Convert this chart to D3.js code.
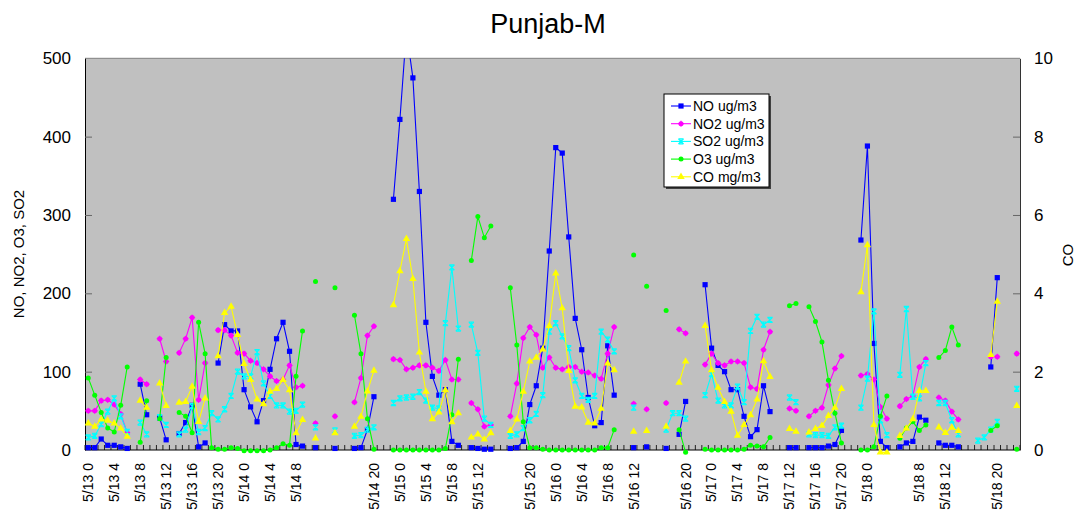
<!DOCTYPE html>
<html>
<head>
<meta charset="utf-8">
<script src="https://cdn.jsdelivr.net/npm/d3@7"></script>
<style>
  body { margin: 0; background: #fff; }
  text { font-family: "Liberation Sans", Arial, sans-serif; fill: #000; }
</style>
</head>
<body>
<svg id="chart" width="1080" height="513"></svg>
<script>
// hourly readings 5/13 0:00 .. 5/18 23:00 (144 rows), null = no data
var _ = null;

var noVals = [
  3,3,14,6,6,4,2,_,84,45,_,41,13,_,21,35,57,4,9,_,111,160,152,152,
  77,55,36,63,103,142,163,126,7,5,_,3,_,_,2,_,_,2,3,26,68,_,_,320,
  422,535,475,330,163,94,70,77,11,6,_,3,2,1,1,_,_,2,3,11,58,82,130,254,
  386,379,272,168,128,67,31,35,133,70,_,_,3,_,4,_,_,2,_,20,62,_,_,211,
  130,108,100,77,77,43,17,26,82,49,_,_,3,3,_,3,3,3,5,7,25,_,_,268,
  388,136,11,3,_,4,9,11,42,38,_,9,6,6,4,_,_,_,_,106,220,_,_,_
];

var no2Vals = [
  50,50,63,64,58,46,22,_,90,84,_,142,113,_,124,142,169,64,111,_,153,153,146,124,
  123,114,111,103,94,88,90,108,80,82,_,34,_,_,43,_,_,61,92,146,158,_,_,116,
  115,103,105,108,108,105,101,115,90,90,_,60,52,30,32,_,_,43,85,143,157,147,105,118,
  105,103,106,106,100,99,95,91,123,157,_,_,59,_,52,_,_,60,_,154,149,_,_,109,
  123,111,108,113,113,111,80,78,128,151,_,_,53,50,_,43,50,54,83,104,120,_,_,95,
  97,90,55,40,_,56,65,69,106,116,_,67,63,49,39,_,_,_,_,119,119,_,_,123
];

var so2Vals = [
  16,18,33,49,66,43,23,_,35,20,_,42,32,_,20,26,56,23,28,47,39,52,69,100,
  94,94,125,85,69,57,57,49,50,58,_,29,_,_,25,_,_,18,19,26,29,_,_,60,
  66,67,68,74,63,54,53,162,233,155,_,160,124,40,32,_,_,18,20,28,38,46,70,151,
  162,145,130,89,69,64,69,151,141,126,_,_,54,_,_,_,_,26,47,47,40,_,_,70,
  97,63,57,57,81,61,152,170,160,166,_,_,67,61,_,20,19,19,18,29,31,_,_,54,
  91,177,38,19,_,96,180,68,66,111,_,60,60,38,20,_,_,12,16,26,36,_,_,78
];

var o3Vals = [
  92,70,48,28,23,57,106,_,10,63,_,40,118,_,48,43,22,163,123,3,1,1,3,2,
  -1,-1,-1,-1,0,3,8,6,94,152,_,215,_,_,207,_,_,172,123,40,1,_,_,0,
  0,0,0,0,0,0,0,2,45,116,_,242,298,271,286,_,_,207,134,36,3,3,1,0,
  0,0,0,0,0,0,0,3,3,26,_,_,249,_,209,_,_,178,_,26,-3,_,_,1,
  0,0,0,0,0,1,6,5,4,16,_,_,184,187,_,183,164,138,89,47,9,_,_,0,
  0,4,43,69,_,15,28,36,25,32,_,118,127,157,134,_,_,_,_,25,31,_,_,1
];

var coVals = [
  0.68,0.6,0.78,0.75,0.68,0.55,0.34,_,1.26,1.08,_,1.7,1.13,_,1.21,1.23,1.62,0.72,1.32,_,2.4,3.5,3.66,2.94,
  2.2,1.79,1.29,1.17,1.49,1.56,1.79,1.53,0.43,0.77,_,0.3,_,_,0.43,_,_,0.6,0.85,1.5,2.03,_,_,3.7,
  4.57,5.39,4.37,2.49,1.49,0.79,0.96,1.53,0.71,0.94,_,0.32,0.4,0.27,0.43,_,_,0.49,0.78,1.49,2.26,2.36,2.57,3.17,
  4.51,3.62,2.02,1.11,1.09,0.7,0.68,1.06,2.21,2.04,_,_,0.47,_,0.49,_,_,0.6,_,1.72,2.26,_,_,3.17,
  2.04,1.59,1.23,0.98,0.37,0.64,0.89,1.29,2.27,1.87,_,_,0.54,0.47,_,0.45,0.54,0.62,0.87,1.08,1.56,_,_,4.03,
  5.23,0.64,-0.06,-0.06,_,0.36,0.55,0.79,1.51,1.51,_,0.58,0.44,0.57,0.49,_,_,_,_,2.43,3.79,_,_,1.13
];

// one label every 4th row; rows with no timestamp have no label
var tickLabels = [
  "5/13 0","5/13 4","5/13 8","5/13 12","5/13 16","5/13 20",
  "5/14 0","5/14 4","5/14 8","","","5/14 20",
  "5/15 0","5/15 4","5/15 8","5/15 12","","5/15 20",
  "5/16 0","5/16 4","5/16 8","5/16 12","","5/16 20",
  "5/17 0","5/17 4","5/17 8","5/17 12","5/17 16","5/17 20",
  "5/18 0","","5/18 8","5/18 12","","5/18 20"
];
var labelStep = 4;

var leftTicks = [0, 100, 200, 300, 400, 500];
var rightTicks = [0, 2, 4, 6, 8, 10];

var series = [
  {name: "NO ug/m3",  values: noVals,  color: "#0000ff", marker: "square",   axis: "left"},
  {name: "NO2 ug/m3", values: no2Vals, color: "#ff00ff", marker: "diamond",  axis: "left"},
  {name: "SO2 ug/m3", values: so2Vals, color: "#00ffff", marker: "star",     axis: "left"},
  {name: "O3 ug/m3",  values: o3Vals,  color: "#00ff00", marker: "circle",   axis: "left"},
  {name: "CO mg/m3",  values: coVals,  color: "#ffff00", marker: "triangle", axis: "right"}
];

var svg = d3.select("#chart");
var plotL = 85, plotR = 1020, plotT = 58.3, plotB = 450;

var x = d3.scaleBand()
    .domain(d3.range(noVals.length))
    .range([plotL, plotR]);

var yLeft = d3.scaleLinear().domain([0, 500]).range([plotB, plotT]);
var yRight = d3.scaleLinear().domain([0, 10]).range([plotB, plotT]);

// plot area
svg.append("rect")
    .attr("x", plotL).attr("y", plotT)
    .attr("width", plotR - plotL).attr("height", plotB - plotT)
    .attr("fill", "#c0c0c0");
svg.append("line")
    .attr("x1", plotL).attr("x2", plotR).attr("y1", plotT).attr("y2", plotT)
    .attr("stroke", "#808080");

svg.append("defs").append("clipPath").attr("id", "plotclip")
  .append("rect")
    .attr("x", plotL).attr("y", plotT)
    .attr("width", plotR - plotL).attr("height", plotB - plotT + 12);

// title
svg.append("text")
    .attr("x", 548).attr("y", 33)
    .attr("text-anchor", "middle")
    .style("font-size", "27px")
    .text("Punjab-M");

// left axis
var gL = svg.append("g").attr("transform", "translate(" + plotL + ",0)")
    .call(d3.axisLeft(yLeft).tickValues(leftTicks).tickSize(0).tickPadding(14));
gL.select(".domain").attr("stroke", "#000");
gL.selectAll(".tick text").style("font-size", "17px");
gL.selectAll(".tick").filter(function(d) { return d > 0 && d < 500; })
  .append("line").attr("x1", 0).attr("x2", 7).attr("stroke", "#666");

// right axis
var gR = svg.append("g").attr("transform", "translate(" + plotR + ",0)")
    .call(d3.axisRight(yRight).tickValues(rightTicks).tickSize(0).tickPadding(14));
gR.select(".domain").attr("stroke", "#333");
gR.selectAll(".tick text").style("font-size", "17px");
gR.selectAll(".tick").filter(function(d) { return d > 0 && d < 10; })
  .append("line").attr("x1", 0).attr("x2", -7).attr("stroke", "#666");

// bottom axis: one tick per hour boundary, labels every 4 hours
var gB = svg.append("g");
gB.selectAll("line.hour")
  .data(d3.range(noVals.length + 1))
  .enter().append("line")
    .attr("class", "hour")
    .attr("x1", function(i) { return plotL + i * x.step(); })
    .attr("x2", function(i) { return plotL + i * x.step(); })
    .attr("y1", plotB - 5).attr("y2", plotB)
    .attr("stroke", "#222");
gB.append("line")
    .attr("x1", plotL).attr("x2", plotR).attr("y1", plotB).attr("y2", plotB)
    .attr("stroke", "#000");
gB.selectAll("text")
  .data(tickLabels)
  .enter().append("text")
    .attr("transform", function(d, k) {
      var cx = x(k * labelStep) + x.bandwidth() / 2;
      return "translate(" + cx + "," + 463 + ") rotate(-90)";
    })
    .attr("dy", "0.35em")
    .attr("text-anchor", "end")
    .style("font-size", "14px")
    .text(function(d) { return d; });

// axis titles
svg.append("text")
    .attr("transform", "translate(19,254) rotate(-90)")
    .attr("text-anchor", "middle").attr("dy", "0.35em")
    .style("font-size", "15px")
    .text("NO, NO2, O3, SO2");
svg.append("text")
    .attr("transform", "translate(1068,255) rotate(-90)")
    .attr("text-anchor", "middle").attr("dy", "0.35em")
    .style("font-size", "15px")
    .text("CO");

function drawMarker(sel, type, color) {
  if (type === "square") {
    sel.append("rect").attr("x", -2.6).attr("y", -2.6).attr("width", 5.2).attr("height", 5.2)
      .attr("fill", color);
  } else if (type === "diamond") {
    sel.append("path").attr("d", d3.symbol().type(d3.symbolCircle).size(20))
      .attr("fill", color);
    sel.append("path").attr("d", "M-3,0H3M0,-3V3").attr("stroke", color).attr("stroke-width", 1);
  } else if (type === "star") {
    sel.append("path").attr("d", "M-2.6,-2.6L2.6,2.6M-2.6,2.6L2.6,-2.6M0,-3V3M-2.6,-2.6H2.6M-2.6,2.6H2.6")
      .attr("stroke", color).attr("stroke-width", 1.1).attr("fill", "none");
  } else if (type === "circle") {
    sel.append("circle").attr("r", 2.5).attr("fill", color);
  } else {
    sel.append("path").attr("d", d3.symbol().type(d3.symbolTriangle).size(24))
      .attr("fill", color);
  }
}

var plot = svg.append("g").attr("clip-path", "url(#plotclip)");

series.forEach(function(s) {
  var y = s.axis === "left" ? yLeft : yRight;
  var pts = s.values.map(function(v, i) { return {i: i, v: v}; });
  var line = d3.line()
      .defined(function(d) { return d.v != null; })
      .x(function(d) { return x(d.i) + x.bandwidth() / 2; })
      .y(function(d) { return y(d.v); });

  var g = plot.append("g");
  g.append("path")
      .datum(pts)
      .attr("d", line)
      .attr("fill", "none")
      .attr("stroke", s.color)
      .attr("stroke-width", 1.1);

  g.selectAll("g.m")
    .data(pts.filter(function(d) { return d.v != null; }))
    .enter().append("g")
      .attr("class", "m")
      .attr("transform", function(d) {
        return "translate(" + (x(d.i) + x.bandwidth() / 2) + "," + y(d.v) + ")";
      })
      .each(function() { drawMarker(d3.select(this), s.marker, s.color); });
});

// legend
var lg = svg.append("g").attr("transform", "translate(664,94)");
lg.append("rect").attr("x", 2).attr("y", 2).attr("width", 105).attr("height", 93).attr("fill", "#404040");
lg.append("rect").attr("width", 105).attr("height", 93)
    .attr("fill", "#fff").attr("stroke", "#000").attr("stroke-width", 1);
series.forEach(function(s, k) {
  var row = lg.append("g").attr("transform", "translate(0," + (12 + k * 17.7) + ")");
  row.append("line").attr("x1", 7).attr("x2", 27).attr("stroke", s.color).attr("stroke-width", 1.1);
  drawMarker(row.append("g").attr("transform", "translate(17,0)"), s.marker, s.color);
  row.append("text").attr("x", 29).attr("dy", "0.35em")
      .style("font-size", "14px").text(s.name);
});
</script>
</body>
</html>
